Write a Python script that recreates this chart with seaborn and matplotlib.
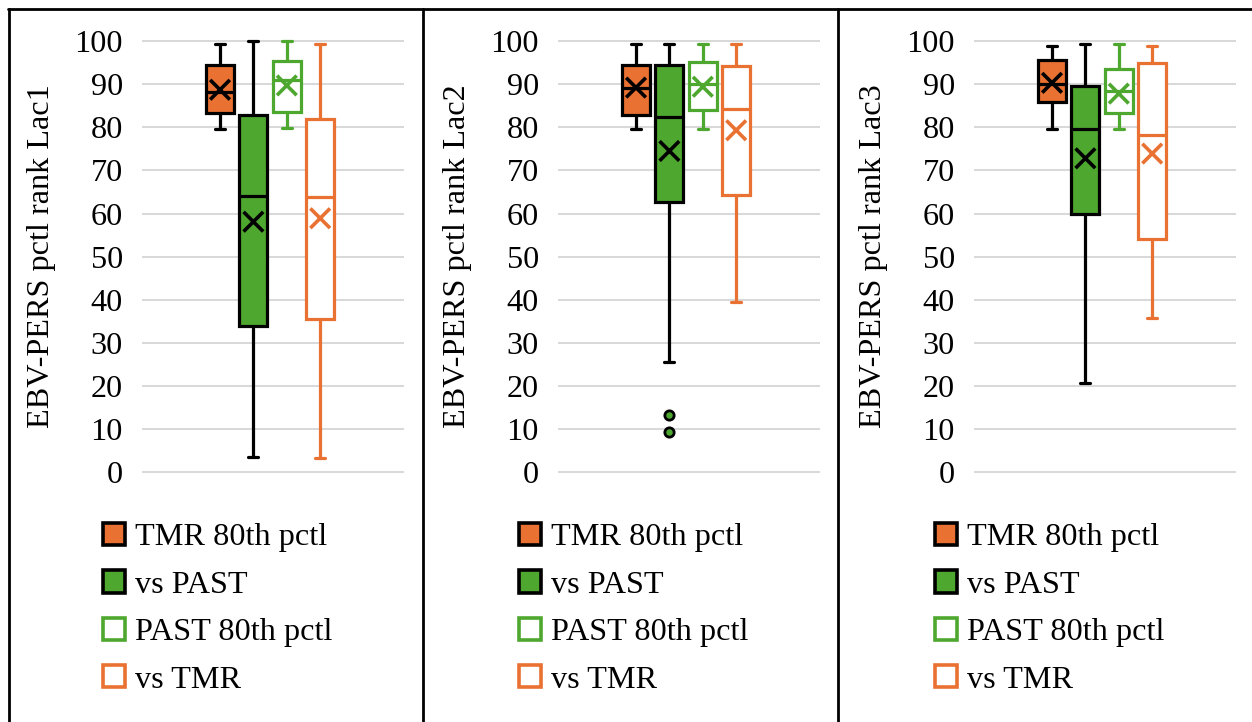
import numpy as np
import pandas as pd
import matplotlib
matplotlib.use("Agg")
import matplotlib.pyplot as plt
from matplotlib.patches import Patch
from matplotlib.lines import Line2D
import seaborn as sns

# ---------------- data ----------------
panels = ["Lac1", "Lac2", "Lac3"]
series = ["TMR 80th pctl", "vs PAST", "PAST 80th pctl", "vs TMR"]

whisker_low = [[79.6, 3.5, 79.9, 3.2],
               [79.6, 25.6, 79.5, 39.4],
               [79.6, 20.7, 79.5, 35.7]]
quart_1 = [[83.3, 34.0, 83.6, 35.5],
           [82.9, 62.6, 83.9, 64.4],
           [85.9, 60.0, 83.3, 54.0]]
medians = [[88.2, 64.1, 91.0, 63.9],
           [89.2, 82.3, 90.0, 84.3],
           [90.1, 79.5, 88.4, 78.3]]
quart_3 = [[94.4, 82.8, 95.4, 81.8],
           [94.4, 94.4, 95.1, 94.1],
           [95.5, 89.5, 93.4, 95.0]]
whisker_high = [[99.4, 100.0, 100.0, 99.2],
                [99.4, 99.2, 99.4, 99.4],
                [98.8, 99.2, 99.2, 98.8]]
means = [[88.7, 58.1, 89.7, 58.9],
         [89.2, 74.5, 89.4, 79.3],
         [90.3, 72.8, 87.8, 73.9]]
outliers_lac2_vs_past = [13.3, 9.4]
yticks = list(range(0, 101, 10))

# ---------------- style ----------------
ORANGE = "#E97132"
GREEN = "#4EA72E"
fills = [ORANGE, GREEN, "white", "white"]
edges = ["black", "black", GREEN, ORANGE]
mean_cols = ["black", "black", GREEN, ORANGE]

sns.set_theme(style="white")
plt.rcParams["font.family"] = ["Liberation Serif", "DejaVu Serif"]
plt.rcParams["text.color"] = "black"
plt.rcParams["axes.labelcolor"] = "black"
plt.rcParams["ytick.color"] = "black"
plt.rcParams["xtick.color"] = "black"
FS = 23.2

W, H = 1252, 722
fig = plt.figure(figsize=(W / 100, H / 100), dpi=100)

px_unit = 33.4       # pixels between box centres
ppu = 4.313          # pixels per y unit
for k, panel in enumerate(panels):
    left_px = 142 + 416 * k
    width_px = 262
    bottom_px = 472.3 + ppu * 1.0
    height_px = ppu * 102
    ax = fig.add_axes([left_px / W, 1 - bottom_px / H, width_px / W, height_px / H])

    rows = []
    for i, s in enumerate(series):
        for v in (whisker_low[k][i], quart_1[k][i], medians[k][i],
                  quart_3[k][i], whisker_high[k][i]):
            rows.append({"series": s, "value": v})
    df = pd.DataFrame(rows)

    for i, s in enumerate(series):
        sub = df[df["series"] == s]
        sns.boxplot(data=sub, x="series", y="value", order=series,
                    color=fills[i], linecolor=edges[i], linewidth=2.3,
                    width=0.84, whis=(0, 100), saturation=1,
                    showfliers=False, capwidths=0.3, ax=ax)

    sns.scatterplot(x=list(range(len(series))), y=means[k], hue=series,
                    palette=mean_cols, marker="x", s=200, linewidth=2.6,
                    legend=False, zorder=6, ax=ax)
    if panel == "Lac2":
        sns.scatterplot(x=[1] * len(outliers_lac2_vs_past), y=outliers_lac2_vs_past,
                        marker="o", color=GREEN, edgecolor="black", s=45,
                        linewidth=2.0, zorder=6, ax=ax)

    ax.set_xlim(-78 / px_unit, (width_px - 78) / px_unit)
    ax.set_ylim(-1, 101)
    ax.set_yticks(yticks)
    ax.set_yticklabels([str(t) for t in yticks], fontsize=FS, color="black")
    ax.set_xticks([])
    ax.set_xlabel("")
    ax.set_ylabel("")
    ax.tick_params(axis="y", length=0, pad=13.7, colors="black")
    for sp in ax.spines.values():
        sp.set_visible(False)
    ax.yaxis.grid(True, color="#d9d9d9", linewidth=1.45)
    ax.set_axisbelow(True)

    fig.text((42 + 416 * k) / W, 1 - 256.5 / H, f"EBV-PERS pctl rank {panel}",
             rotation=90, ha="center", va="center", fontsize=FS, color="black")

    handles = [Patch(facecolor=fills[i], edgecolor=edges[i], linewidth=2.6,
                     label=series[i]) for i in range(len(series))]
    fig.legend(handles=handles, loc="upper left",
               bbox_to_anchor=((103 + 416 * k) / W, 1 - 523 / H),
               bbox_transform=fig.transFigure, frameon=False, fontsize=FS,
               labelcolor="black",
               handlelength=0.68, handleheight=0.68, handletextpad=0.32,
               labelspacing=0.56, borderpad=0, borderaxespad=0)

# panel borders
lw = 2.0
fig.add_artist(Line2D([8 / W, 1.0], [1 - 8.5 / H, 1 - 8.5 / H],
                      transform=fig.transFigure, color="black", linewidth=lw))
for xp in (8.5, 423, 838):
    fig.add_artist(Line2D([xp / W, xp / W], [0, 1 - 8.5 / H],
                          transform=fig.transFigure, color="black", linewidth=lw))

fig.savefig("out.png", dpi=100)
